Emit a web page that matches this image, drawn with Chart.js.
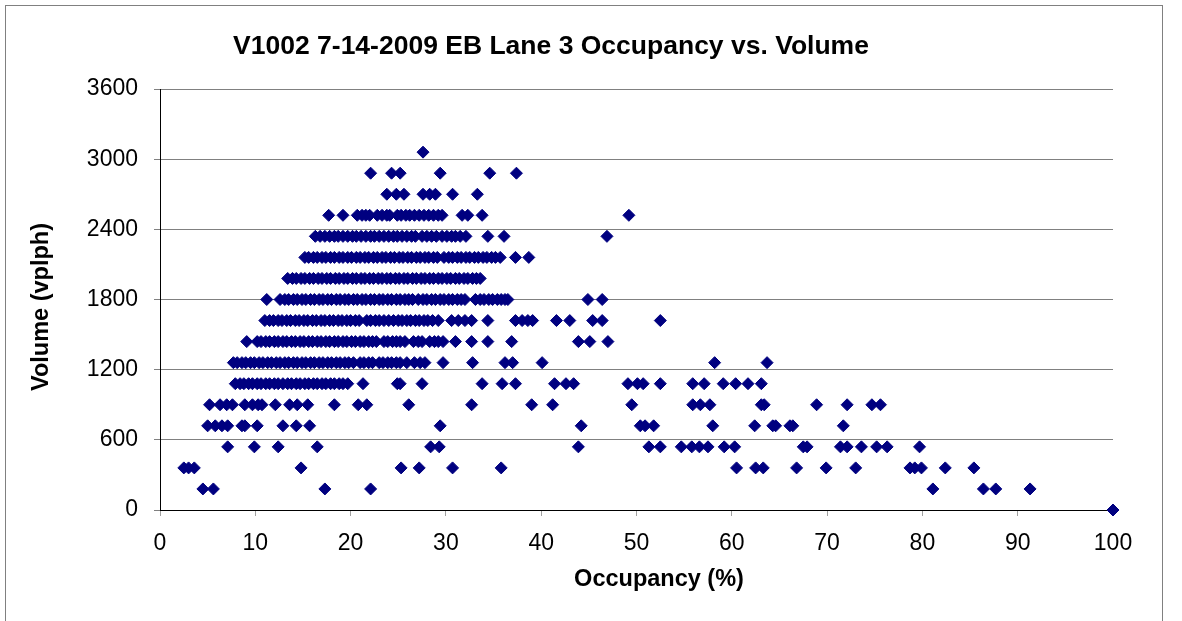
<!DOCTYPE html>
<html>
<head>
<meta charset="utf-8">
<script src="https://cdn.jsdelivr.net/npm/chart.js@4"></script>
<style>
    body { margin: 0; background: #fff; }
    #wrap { position: relative; width: 1182px; height: 621px; }
    #frame { position: absolute; left: 5px; top: 5px; width: 1156px; height: 615px;
             border: 1px solid #808080; border-bottom: none; }
    canvas { position: absolute; left: 0; top: 0; }
</style>
</head>
<body>
<div id="wrap">
    <div id="frame"></div>
    <canvas id="scatter"></canvas>
</div>
<script>
// occupancy (%) readings, grouped by the volume level (vplph) they sit on
const occ3060 = [27.6];
const occ2880 = [22.1, 24.3, 25.2, 29.4, 34.6, 37.4];
const occ2700 = [23.8, 24.8, 25.6, 27.6, 28.3, 28.9, 30.7, 33.3];
const occ2520 = [17.7, 19.2, 20.7, 21.2, 21.6, 22.0, 22.8, 23.3, 23.8, 24.1, 24.9, 25.3, 25.8, 26.2, 26.7,
    27.2, 27.7, 28.2, 28.7, 29.2, 29.6, 31.7, 32.3, 33.8, 49.2];
const occ2340 = [16.3, 16.8, 17.3, 17.8, 18.3, 18.7, 19.2, 19.7, 20.2, 20.6, 21.1, 21.6, 22.1, 22.5, 23.0,
    23.5, 24.0, 24.5, 24.9, 25.4, 25.9, 26.4, 26.8, 27.5, 28.0, 28.5, 29.0, 29.6, 30.1, 30.6, 31.0, 31.5,
    32.1, 34.4, 36.1, 46.9];
const occ2160 = [15.2, 15.6, 16.1, 16.5, 17.0, 17.4, 17.9, 18.3, 18.8, 19.2, 19.7, 20.1, 20.6, 21.0, 21.5,
    21.9, 22.4, 22.8, 23.3, 23.7, 24.2, 24.6, 25.1, 25.5, 26.0, 26.4, 26.9, 27.3, 27.8, 28.2, 28.7, 29.1,
    29.8, 30.3, 30.7, 31.2, 31.6, 32.1, 32.5, 33.0, 33.4, 33.9, 34.3, 34.8, 35.2, 35.7, 37.3, 38.7];
const occ1980 = [13.4, 13.9, 14.3, 14.8, 15.2, 15.7, 16.1, 16.6, 17.0, 17.5, 17.9, 18.4, 18.8, 19.3, 19.7,
    20.2, 20.6, 21.1, 21.5, 22.0, 22.4, 22.9, 23.3, 23.8, 24.2, 24.7, 25.1, 25.6, 26.0, 26.5, 26.9, 27.4,
    27.8, 28.3, 28.7, 29.2, 29.6, 30.1, 30.5, 31.0, 31.4, 31.9, 32.3, 32.8, 33.2, 33.6];
const occ1800 = [11.2, 12.6, 13.1, 13.5, 14.0, 14.4, 14.9, 15.3, 15.8, 16.2, 16.7, 17.1, 17.6, 18.0, 18.5,
    18.9, 19.4, 19.8, 20.3, 20.7, 21.2, 21.6, 22.1, 22.5, 23.0, 23.4, 23.9, 24.3, 24.8, 25.2, 25.7, 26.1,
    26.5, 27.1, 27.6, 28.0, 28.5, 28.9, 29.4, 29.8, 30.3, 30.7, 31.2, 31.6, 32.0, 33.1, 33.6, 34.0, 34.5,
    34.9, 35.4, 35.8, 36.2, 36.5, 44.9, 46.4];
const occ1620 = [11.0, 11.5, 11.9, 12.4, 12.8, 13.3, 13.7, 14.2, 14.6, 15.1, 15.5, 16.0, 16.4, 16.9, 17.3,
    17.8, 18.2, 18.7, 19.1, 19.6, 20.0, 20.5, 20.9, 21.7, 22.1, 22.6, 23.0, 23.5, 24.0, 24.5, 25.0, 25.4,
    25.9, 26.3, 26.8, 27.2, 27.7, 28.1, 28.6, 29.2, 30.6, 31.3, 32.0, 32.7, 34.4, 37.3, 38.0, 38.6, 39.1,
    41.6, 43.0, 45.4, 46.4, 52.5];
const occ1440 = [9.1, 10.2, 10.6, 11.1, 11.5, 12.0, 12.4, 12.9, 13.3, 13.8, 14.2, 14.7, 15.1, 15.6, 16.0,
    16.5, 16.9, 17.4, 17.8, 18.3, 18.7, 19.2, 19.6, 20.1, 20.5, 21.0, 21.4, 21.9, 22.3, 22.7, 23.5, 23.9,
    24.4, 24.8, 25.2, 25.7, 26.6, 27.1, 27.5, 28.3, 28.8, 29.2, 29.7, 31.0, 32.7, 34.4, 36.9, 43.9, 45.1, 47.0];
const occ1260 = [7.7, 8.1, 8.6, 9.0, 9.5, 9.9, 10.4, 10.8, 11.3, 11.7, 12.2, 12.6, 13.1, 13.5, 14.0, 14.4,
    14.9, 15.3, 15.8, 16.2, 16.7, 17.1, 17.6, 18.0, 18.5, 18.9, 19.4, 19.8, 20.3, 21.0, 21.4, 21.9, 22.3,
    23.0, 23.4, 23.9, 24.3, 24.8, 25.2, 25.9, 26.7, 27.3, 27.8, 29.7, 32.8, 36.2, 37.0, 40.1, 58.2, 63.7];
const occ1080 = [7.9, 8.4, 8.8, 9.3, 9.7, 10.2, 10.6, 11.1, 11.5, 12.0, 12.4, 12.9, 13.4, 13.8, 14.3, 14.7,
    15.2, 15.6, 16.1, 16.5, 17.0, 17.4, 17.9, 18.3, 18.8, 19.2, 19.7, 21.3, 24.9, 25.2, 27.5, 33.8, 35.9,
    37.3, 41.4, 42.6, 43.4, 49.1, 50.1, 50.7, 52.5, 55.9, 57.1, 59.1, 60.4, 61.7, 63.1];
const occ900 = [5.2, 6.3, 7.0, 7.6, 8.9, 9.7, 10.3, 10.7, 12.1, 13.6, 14.4, 15.5, 18.3, 20.8, 21.7, 26.1,
    32.7, 39.0, 41.2, 49.5, 55.9, 56.7, 57.7, 63.1, 63.4, 68.9, 72.1, 74.7, 75.6];
const occ720 = [5.0, 5.8, 6.5, 7.1, 8.6, 8.9, 10.2, 12.9, 14.3, 15.7, 29.4, 44.2, 50.4, 50.9, 51.8, 58.0,
    62.4, 64.3, 64.6, 66.1, 66.4, 71.7];
const occ540 = [7.1, 9.9, 12.4, 16.5, 28.4, 29.3, 43.9, 51.3, 52.5, 54.7, 55.8, 56.6, 57.5, 59.2, 60.3,
    67.5, 67.9, 71.4, 72.1, 73.6, 75.2, 76.3, 79.7];
const occ360 = [2.5, 3.0, 3.6, 14.8, 25.3, 27.2, 30.7, 35.8, 60.5, 62.5, 63.3, 66.8, 69.9, 73.0, 78.7, 79.2,
    79.9, 82.4, 85.4];
const occ180 = [4.5, 5.6, 17.3, 22.1, 81.1, 86.4, 87.7, 91.3];
const occ0 = [100];

const volumeRows = [
    [3060, occ3060], [2880, occ2880], [2700, occ2700], [2520, occ2520], [2340, occ2340],
    [2160, occ2160], [1980, occ1980], [1800, occ1800], [1620, occ1620], [1440, occ1440],
    [1260, occ1260], [1080, occ1080], [900, occ900], [720, occ720], [540, occ540],
    [360, occ360], [180, occ180], [0, occ0]
];

const chartTitle = "V1002 7-14-2009 EB Lane 3 Occupancy vs. Volume";
const xTitle = "Occupancy (%)";
const yTitle = "Volume (vplph)";

let points = [];
volumeRows.forEach(row => {
    row[1].forEach(occ => points.push({x: occ, y: row[0]}));
});

const fontFamily = "'Liberation Sans', Arial, sans-serif";

// excel places these texts off the plot centre, so draw them by hand
const textPlugin = {
    id: "excelTexts",
    afterDraw(chart) {
        const ctx = chart.ctx;
        ctx.save();
        ctx.fillStyle = "#000";
        ctx.textAlign = "center";
        ctx.textBaseline = "middle";

        ctx.font = "bold 26.5px " + fontFamily;
        ctx.fillText(chartTitle, 551, 47);

        ctx.font = "bold 23.5px " + fontFamily;
        ctx.fillText(xTitle, 659, 580);

        ctx.translate(42, 307);
        ctx.rotate(-Math.PI / 2);
        ctx.fillText(yTitle, 0, 0);
        ctx.restore();
    }
};

const tickFont = {family: fontFamily, size: 23};

new Chart(document.getElementById("scatter"), {
    type: "scatter",
    data: {
        datasets: [{
            label: "Volume",
            data: points,
            pointStyle: "rectRot",
            pointRadius: 6,
            pointHoverRadius: 6,
            backgroundColor: "#000080",
            borderColor: "#000080",
            borderWidth: 1,
            clip: false
        }]
    },
    options: {
        responsive: true,
        maintainAspectRatio: false,
        animation: false,
        layout: {padding: {left: 0, top: 89, right: 69, bottom: 0}},
        plugins: {
            legend: {display: false},
            tooltip: {enabled: false}
        },
        scales: {
            x: {
                type: "linear",
                min: 0,
                max: 100,
                ticks: {stepSize: 10, color: "#000", font: tickFont, padding: 14, maxRotation: 0},
                grid: {drawOnChartArea: false, drawTicks: true, tickLength: 6, color: "#a0a0a0"},
                border: {color: "#000", width: 1},
                afterFit(scale) { scale.height = 111; }
            },
            y: {
                type: "linear",
                min: 0,
                max: 3600,
                ticks: {
                    stepSize: 600, color: "#000", font: tickFont, padding: 16,
                    callback: value => String(value)
                },
                grid: {color: "#808080", lineWidth: 1, drawTicks: true, tickLength: 6},
                border: {color: "#000", width: 1},
                afterFit(scale) { scale.width = 160; }
            }
        }
    },
    plugins: [textPlugin]
});
</script>
</body>
</html>
